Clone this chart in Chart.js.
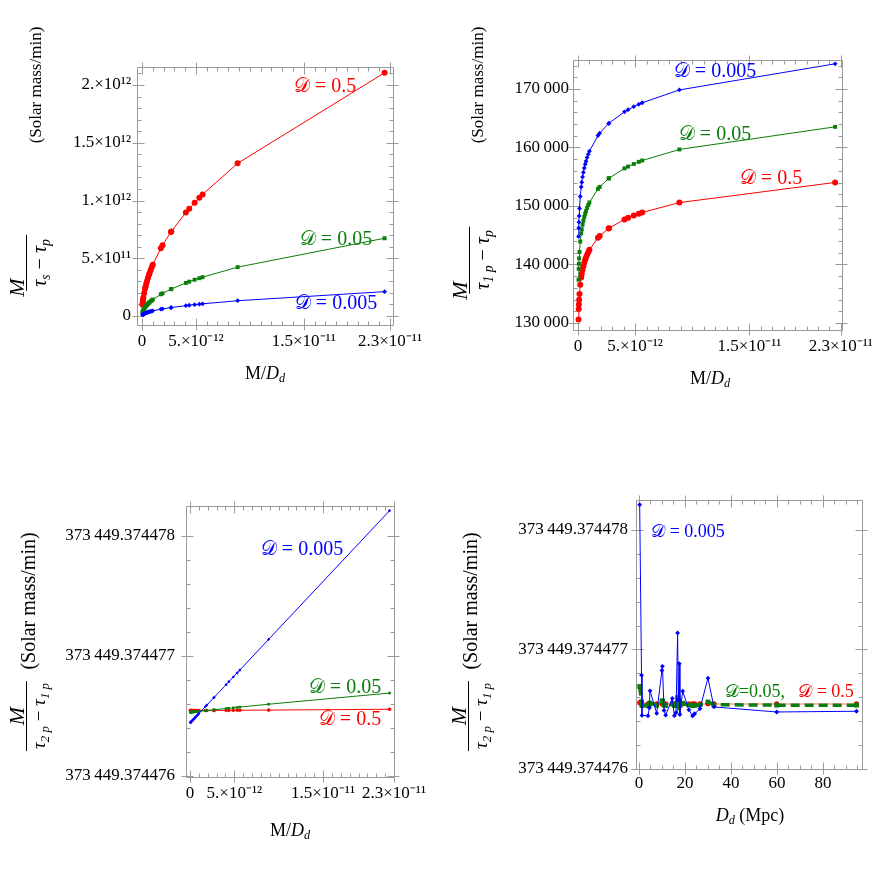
<!DOCTYPE html>
<html>
<head>
<meta charset="utf-8">
<script src="https://cdn.jsdelivr.net/npm/chart.js@4.4.0/dist/chart.umd.min.js"></script>
<style>
  html, body { margin: 0; padding: 0; background: #fff; }
  body { width: 872px; height: 872px; position: relative; overflow: hidden; font-family: "Liberation Serif", "Times New Roman", serif; color: #000; }
  canvas { position: absolute; }
  .rot { position: absolute; transform: translate(-50%, -50%) rotate(-90deg); white-space: nowrap; }
  .lbl { position: absolute; transform: translate(-50%, -50%); white-space: nowrap; }
  .frac { display: inline-flex; flex-direction: column; align-items: center; }
  .num { font-style: italic; font-size: 22px; line-height: 19px; }
  .low .num { align-self: flex-start; margin-left: -6px; }
  .den { border-top: 1px solid #000; font-size: 20px; line-height: 24px; padding: 0 4px; }
  .den.small { font-size: 19px; padding: 0 2px; }
  .den i, .xt i { font-style: italic; }
  sub { font-size: 0.68em; font-style: italic; vertical-align: -0.3em; line-height: 0; }
  .unit { font-size: 17px; }
  .unit.big { font-size: 20px; }
  .xt { font-size: 18px; }
  .ann { font-size: 20px; }
  .red { color: #ff0000; } .green { color: #0a7d0a; } .blue { color: #0000ff; }
</style>
</head>
<body>
<canvas id="p1"></canvas>
<canvas id="p2"></canvas>
<canvas id="p3"></canvas>
<canvas id="p4"></canvas>

<!-- y titles -->
<div class="rot" style="left:29px;top:263px"><div class="frac low"><i class="num">M</i><span class="den"><i>τ</i><sub>s</sub> − <i>τ</i><sub>p</sub></span></div></div>
<div class="rot unit" style="left:36px;top:85px">(Solar mass/min)</div>
<div class="rot" style="left:472px;top:260px"><div class="frac low"><i class="num">M</i><span class="den"><i>τ</i><sub>1 p</sub> − <i>τ</i><sub>p</sub></span></div></div>
<div class="rot unit" style="left:478px;top:85px">(Solar mass/min)</div>
<div class="rot" style="left:29px;top:716px"><div class="frac"><i class="num">M</i><span class="den small"><i>τ</i><sub>2 p</sub> − <i>τ</i><sub>1 p</sub></span></div></div>
<div class="rot unit big" style="left:28px;top:601px">(Solar mass/min)</div>
<div class="rot" style="left:471px;top:716px"><div class="frac"><i class="num">M</i><span class="den small"><i>τ</i><sub>2 p</sub> − <i>τ</i><sub>1 p</sub></span></div></div>
<div class="rot unit big" style="left:470px;top:601px">(Solar mass/min)</div>

<!-- x titles -->
<div class="lbl xt" style="left:265px;top:373px">M/<i>D</i><sub>d</sub></div>
<div class="lbl xt" style="left:710px;top:378px">M/<i>D</i><sub>d</sub></div>
<div class="lbl xt" style="left:290px;top:830px">M/<i>D</i><sub>d</sub></div>
<div class="lbl xt" style="left:750px;top:815px"><i>D</i><sub>d</sub> (Mpc)</div>

<!-- series annotations -->
<div class="lbl ann red" style="left:325px;top:85px">𝒟 = 0.5</div>
<div class="lbl ann green" style="left:336px;top:238px">𝒟 = 0.05</div>
<div class="lbl ann blue" style="left:336px;top:302px">𝒟 = 0.005</div>
<div class="lbl ann blue" style="left:715px;top:70px">𝒟 = 0.005</div>
<div class="lbl ann green" style="left:715px;top:133px">𝒟 = 0.05</div>
<div class="lbl ann red" style="left:771px;top:177px">𝒟 = 0.5</div>
<div class="lbl ann blue" style="left:302px;top:548px">𝒟 = 0.005</div>
<div class="lbl ann green" style="left:345px;top:686px">𝒟 = 0.05</div>
<div class="lbl ann red" style="left:350px;top:718px">𝒟 = 0.5</div>
<div class="lbl ann blue" style="left:688px;top:531px;font-size:18px">𝒟 = 0.005</div>
<div class="lbl ann green" style="left:755px;top:691px;font-size:18px">𝒟=0.05,</div>
<div class="lbl ann red" style="left:826px;top:691px;font-size:18px">𝒟 = 0.5</div>

<script>
// ---------- data (one entry per source, same order everywhere) ----------
const massRatio = [0.048e-12, 0.065e-12, 0.08e-12, 0.1e-12, 0.13e-12, 0.2e-12, 0.28e-12, 0.33e-12, 0.4e-12,
  0.47e-12, 0.55e-12, 0.63e-12, 0.7e-12, 0.8e-12, 0.9e-12, 1.0e-12, 1.75e-12, 1.9e-12, 2.68e-12, 2.72e-12,
  4.07e-12, 4.38e-12, 4.88e-12, 5.32e-12, 5.62e-12, 8.87e-12, 22.5e-12];
const distMpc = [23.3, 3.9, 15.4, 1.3, 11.6, 17.8, 24.2, 7.7, 16.1, 59.9, 94.6, 10.9, 21.7, 26.5, 4.5, 32.6,
  17.1, 14.5, 19.0, 4.8, 30.0, 1.1, 10.0, 10.2, 17.5, 16.8, 0.3];

// M/(tau_s - tau_p)
const sp_D0005 = [0.0097e12, 0.0113e12, 0.0126e12, 0.014e12, 0.016e12, 0.0199e12, 0.0235e12, 0.0255e12, 0.0281e12,
  0.0304e12, 0.0329e12, 0.0352e12, 0.0371e12, 0.0397e12, 0.0421e12, 0.0444e12, 0.0587e12, 0.0612e12, 0.0727e12,
  0.0732e12, 0.0896e12, 0.0929e12, 0.0981e12, 0.1024e12, 0.1053e12, 0.1322e12, 0.2106e12];
const sp_D005 = [0.031e12, 0.036e12, 0.040e12, 0.045e12, 0.051e12, 0.064e12, 0.075e12, 0.082e12, 0.090e12,
  0.097e12, 0.105e12, 0.113e12, 0.119e12, 0.127e12, 0.135e12, 0.142e12, 0.188e12, 0.196e12, 0.232e12, 0.234e12,
  0.286e12, 0.297e12, 0.314e12, 0.327e12, 0.336e12, 0.423e12, 0.673e12];
const sp_D05 = [0.097e12, 0.113e12, 0.126e12, 0.140e12, 0.160e12, 0.199e12, 0.235e12, 0.255e12, 0.281e12,
  0.304e12, 0.329e12, 0.352e12, 0.371e12, 0.397e12, 0.421e12, 0.444e12, 0.587e12, 0.612e12, 0.727e12, 0.732e12,
  0.896e12, 0.929e12, 0.981e12, 1.024e12, 1.053e12, 1.322e12, 2.106e12];

// M/(tau_1p - tau_p)
const p1p_D0005 = [144786, 146242, 147239, 148310, 149569, 151637, 153252, 154040, 154964, 155738, 156493, 157145,
  157650, 158291, 158856, 159362, 162048, 162443, 164094, 164165, 166099, 166452, 166971, 167385, 167648, 169839, 174307];
const p1p_D005 = [137400, 139264, 140126, 141052, 142141, 143929, 145325, 146007, 146805, 147475, 148127, 148691,
  149127, 149682, 150170, 150608, 152930, 153272, 154699, 154760, 156433, 156737, 157186, 157545, 157772, 159666, 163529];
const p1p_D05 = [130600, 132391, 133160, 133985, 134956, 136550, 137795, 138403, 139114, 139711, 140293, 140795,
  141185, 141679, 142115, 142505, 144575, 144880, 146152, 146207, 147698, 147970, 148370, 148689, 148892, 150581, 154025];

// M/(tau_2p - tau_1p)
const p21_D0005 = [373449.374476444, 373449.374476445, 373449.374476446, 373449.374476448, 373449.37447645,
  373449.374476456, 373449.374476462, 373449.374476466, 373449.374476471, 373449.374476477, 373449.374476483,
  373449.37447649, 373449.374476495, 373449.374476503, 373449.374476511, 373449.374476519, 373449.374476578,
  373449.37447659, 373449.374476651, 373449.374476654, 373449.37447676, 373449.374476785, 373449.374476824,
  373449.374476859, 373449.374476882, 373449.374477138, 373449.374478211];
const p21_D005 = [373449.37447653, 373449.37447653, 373449.374476531, 373449.374476531, 373449.374476531,
  373449.374476532, 373449.374476532, 373449.374476533, 373449.374476533, 373449.374476534, 373449.374476534,
  373449.374476535, 373449.374476535, 373449.374476536, 373449.374476537, 373449.374476538, 373449.374476543,
  373449.374476544, 373449.37447655, 373449.374476551, 373449.374476561, 373449.374476563, 373449.374476567,
  373449.37447657, 373449.374476573, 373449.374476597, 373449.37447669];
const p21_D05 = [373449.374476544, 373449.374476544, 373449.374476544, 373449.374476544, 373449.374476544,
  373449.374476544, 373449.374476544, 373449.374476544, 373449.374476544, 373449.374476544, 373449.374476544,
  373449.374476544, 373449.374476544, 373449.374476544, 373449.374476544, 373449.374476544, 373449.374476545,
  373449.374476545, 373449.374476545, 373449.374476545, 373449.374476546, 373449.374476546, 373449.374476546,
  373449.374476547, 373449.374476547, 373449.374476548, 373449.374476555];

// tick values and labels
const ratioTicks = [0, 5e-12, 1.5e-11, 2.3e-11];
const ratioLabels = ['0', '5.×10⁻¹²', '1.5×10⁻¹¹', '2.3×10⁻¹¹'];
const spTicks = [0, 5e11, 1e12, 1.5e12, 2e12];
const spLabels = ['0', '5.×10¹¹', '1.×10¹²', '1.5×10¹²', '2.×10¹²'];
const p1pTicks = [130000, 140000, 150000, 160000, 170000];
const p1pLabels = ['130\u2009000', '140\u2009000', '150\u2009000', '160\u2009000', '170\u2009000'];
const p21Ticks = [373449.374476, 373449.374477, 373449.374478];
const p21Labels = ['373\u2009449.374476', '373\u2009449.374477', '373\u2009449.374478'];
const distTicks = [0, 20, 40, 60, 80];
const distLabels = ['0', '20', '40', '60', '80'];

// ---------- drawing ----------
const serif = '"Liberation Serif", "Times New Roman", serif';
const RED = '#ff0000', GREEN = '#0a7d0a', BLUE = '#0000ff';

function steps(from, to, step) {
  const out = [];
  for (let k = 0; from + k * step <= to + step * 1e-6; k++) out.push(from + k * step);
  return out;
}

// Mathematica style frame: grey box, minor ticks inside, major ticks crossing it
const frameTicks = {
  id: 'frameTicks',
  beforeDatasetsDraw(chart) {
    const t = chart.config._frame;
    if (!t) return;
    const { ctx, chartArea: a } = chart;
    const xs = chart.scales.x, ys = chart.scales.y;
    const L = Math.round(a.left) + 0.5, R = Math.round(a.right) + 0.5;
    const T = Math.round(a.top) + 0.5, B = Math.round(a.bottom) + 0.5;
    ctx.save();
    ctx.strokeStyle = '#9a9a9a';
    ctx.lineWidth = 1;
    ctx.beginPath();
    ctx.rect(L, T, R - L, B - T);
    const vt = (v, inL, outL) => {
      const p = Math.round(xs.getPixelForValue(v)) + 0.5;
      if (p < L - 0.5 || p > R + 0.5) return;
      ctx.moveTo(p, B + outL); ctx.lineTo(p, B - inL);
      ctx.moveTo(p, T - outL); ctx.lineTo(p, T + inL);
    };
    const ht = (v, inL, outL) => {
      const p = Math.round(ys.getPixelForValue(v)) + 0.5;
      if (p < T - 0.5 || p > B + 0.5) return;
      ctx.moveTo(L - outL, p); ctx.lineTo(L + inL, p);
      ctx.moveTo(R + outL, p); ctx.lineTo(R - inL, p);
    };
    t.xMinor.forEach(v => vt(v, 4, 0));
    t.xMajor.forEach(v => vt(v, 7, 5));
    t.yMinor.forEach(v => ht(v, 4, 0));
    t.yMajor.forEach(v => ht(v, 7, 5));
    ctx.stroke();
    ctx.restore();
  }
};
Chart.register(frameTicks);

function series(xs, ys, color, style, radius, extra) {
  return Object.assign({
    data: xs.map((x, i) => ({ x: x, y: ys[i] })),
    showLine: true,
    borderColor: color,
    borderWidth: 1,
    pointStyle: style,
    pointRadius: radius,
    pointBackgroundColor: color,
    pointBorderColor: color,
    pointBorderWidth: 0,
    tension: 0
  }, extra || {});
}

// cv = canvas box on page, area = plot frame on page
// datasets listed top-most first (Chart.js paints index 0 last)
function panel(id, cv, area, xAx, yAx, datasets, frame) {
  const el = document.getElementById(id);
  el.width = cv.w; el.height = cv.h;
  el.style.left = cv.x + 'px'; el.style.top = cv.y + 'px';
  el.style.width = cv.w + 'px'; el.style.height = cv.h + 'px';
  const tickFont = { family: serif, size: 17 };
  const cfg = {
    type: 'scatter',
    data: { datasets: datasets },
    options: {
      responsive: false,
      animation: false,
      devicePixelRatio: 1,
      layout: { padding: { top: area.t - cv.y, right: cv.x + cv.w - area.r, bottom: 0, left: 0 } },
      plugins: { legend: { display: false }, tooltip: { enabled: false } },
      scales: {
        x: {
          type: 'linear', min: xAx.min, max: xAx.max,
          grid: { display: false, drawTicks: false }, border: { display: false },
          afterBuildTicks: s => { s.ticks = xAx.ticks.map(v => ({ value: v })); },
          afterFit: s => { s.height = cv.y + cv.h - area.b; },
          ticks: { autoSkip: false, maxRotation: 0, minRotation: 0, padding: xAx.pad, color: '#000', font: tickFont,
            callback: (v, i) => xAx.labels[i] }
        },
        y: {
          type: 'linear', min: yAx.min, max: yAx.max,
          grid: { display: false, drawTicks: false }, border: { display: false },
          afterBuildTicks: s => { s.ticks = yAx.ticks.map(v => ({ value: v })); },
          afterFit: s => { s.width = area.l - cv.x; },
          ticks: { autoSkip: false, padding: yAx.pad, color: '#000', font: tickFont,
            callback: (v, i) => yAx.labels[i] }
        }
      }
    }
  };
  const ch = new Chart(el, cfg);
  ch.config._frame = frame;
  ch.draw();
  return ch;
}

const ratioMinor = steps(0, 2.3e-11, 1e-12);

// top left: M/(tau_s - tau_p)
panel('p1', { x: 0, y: 0, w: 436, h: 436 }, { l: 137, r: 393, t: 67, b: 325 },
  { min: -4.64e-13, max: 2.328e-11, ticks: ratioTicks, labels: ratioLabels, pad: 6 },
  { min: -7.8e10, max: 2.156e12, ticks: spTicks, labels: spLabels, pad: 6 },
  [
    series(massRatio, sp_D0005, BLUE, 'rectRot', 2.4),
    series(massRatio, sp_D005, GREEN, 'rect', 2.8),
    series(massRatio, sp_D05, RED, 'circle', 3)
  ],
  { xMajor: ratioTicks, xMinor: ratioMinor, yMajor: spTicks, yMinor: steps(0, 2.1e12, 1e11) });

// top right: M/(tau_1p - tau_p)
panel('p2', { x: 436, y: 0, w: 470, h: 436 }, { l: 573, r: 842, t: 60, b: 330 },
  { min: -4.36e-13, max: 2.31e-11, ticks: ratioTicks, labels: ratioLabels, pad: 6 },
  { min: 128803, max: 174957, ticks: p1pTicks, labels: p1pLabels, pad: 4 },
  [
    series(massRatio, p1p_D0005, BLUE, 'rectRot', 2.4),
    series(massRatio, p1p_D005, GREEN, 'rect', 2.8),
    series(massRatio, p1p_D05, RED, 'circle', 3)
  ],
  { xMajor: ratioTicks, xMinor: ratioMinor, yMajor: p1pTicks, yMinor: steps(130000, 174000, 2000) });

const p21Minor = steps(373449.374476, 373449.3744782, 2e-7);

// bottom left: M/(tau_2p - tau_1p) against M/D_d
panel('p3', { x: 0, y: 436, w: 436, h: 436 }, { l: 186, r: 394, t: 506, b: 777 },
  { min: -4.5e-13, max: 2.3e-11, ticks: ratioTicks, labels: ratioLabels, pad: 6 },
  { min: 373449.37447599, max: 373449.37447825, ticks: p21Ticks, labels: p21Labels, pad: 11 },
  [
    series(massRatio, p21_D0005, BLUE, 'rectRot', 1.6),
    series(massRatio, p21_D005, GREEN, 'rect', 1.8),
    series(massRatio, p21_D05, RED, 'circle', 1.8)
  ],
  { xMajor: ratioTicks, xMinor: ratioMinor, yMajor: p21Ticks, yMinor: p21Minor });

// bottom right: same quantity against distance
function byDistance(vals) {
  return distMpc.map((d, i) => ({ d: d, v: vals[i] })).sort((a, b) => a.d - b.d);
}
function distSeries(vals, color, style, radius, extra) {
  const pts = byDistance(vals);
  return series(pts.map(p => p.d), pts.map(p => p.v), color, style, radius, extra);
}

panel('p4', { x: 436, y: 436, w: 436, h: 436 }, { l: 636, r: 862, t: 500, b: 769 },
  { min: -1.3, max: 97, ticks: distTicks, labels: distLabels, pad: 4 },
  { min: 373449.374476, max: 373449.37447825, ticks: p21Ticks, labels: p21Labels, pad: 8 },
  [
    distSeries(p21_D0005, BLUE, 'rectRot', 2.4),
    distSeries(p21_D005, GREEN, 'rect', 3.4, { borderWidth: 3.5, borderDash: [9, 5] }),
    distSeries(p21_D05, RED, 'circle', 2.6, { borderColor: 'rgba(255,90,90,0.45)', borderWidth: 2 })
  ],
  { xMajor: distTicks, xMinor: steps(0, 95, 5), yMajor: p21Ticks, yMinor: p21Minor });
</script>
</body>
</html>
